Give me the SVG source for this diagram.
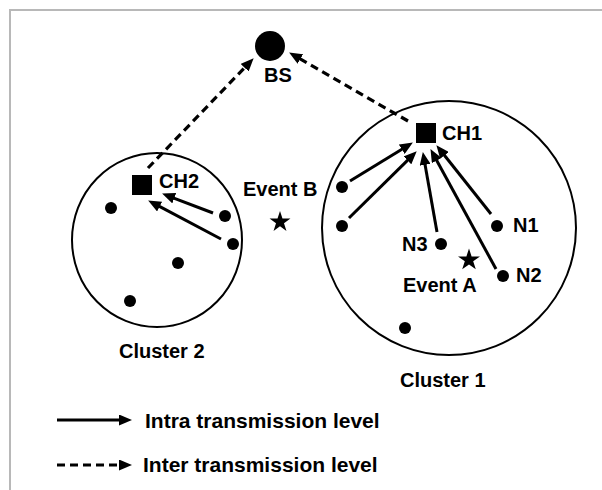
<svg xmlns="http://www.w3.org/2000/svg" xmlns:xlink="http://www.w3.org/1999/xlink" width="602" height="490" viewBox="0 0 602 490">
<style>
  text { font-family: "Liberation Sans", Arial, sans-serif; font-weight: bold; font-size: 20px; fill: #000; }
  .legend-text { font-size: 21px; }
  .frame { stroke: #b8b8b8; stroke-width: 2; fill: none; }
  .cluster { fill: none; stroke: #000; stroke-width: 2; }
  .dot { fill: #000; }
  .ch { fill: #000; }
  .intra { stroke: #000; stroke-width: 3; fill: none; marker-end: url(#head); }
  .inter { stroke: #000; stroke-width: 3.2; fill: none; stroke-dasharray: 8 5; marker-end: url(#head); }
</style>
<defs>
  <marker id="head" viewBox="0 0 13 11" refX="4" refY="5.5" markerWidth="13" markerHeight="11" markerUnits="userSpaceOnUse" orient="auto">
    <path d="M0,0 L13,5.5 L0,11 Z" fill="#000"/>
  </marker>
  <path id="star" d="M0,-11 L2.47,-3.4 L10.46,-3.4 L3.99,1.3 L6.47,8.9 L0,4.2 L-6.47,8.9 L-3.99,1.3 L-10.46,-3.4 L-2.47,-3.4 Z" fill="#000"/>
</defs>
<rect width="602" height="490" fill="#fff"/>
<path class="frame" d="M10,490 L10,10 L602,10"/>

<g id="cluster1">
  <circle class="cluster" cx="449" cy="228" r="127"/>
  <text x="400" y="387">Cluster 1</text>
</g>
<g id="cluster2">
  <ellipse class="cluster" cx="157" cy="240" rx="85" ry="87"/>
  <text x="119" y="358">Cluster 2</text>
</g>

<g id="bs">
  <circle cx="270" cy="46" r="15" fill="#000"/>
  <text x="264" y="82">BS</text>
</g>
<g id="ch1">
  <rect class="ch" x="416" y="123" width="20" height="20"/>
  <text x="442" y="140">CH1</text>
</g>
<g id="ch2">
  <rect class="ch" x="132" y="175" width="20" height="20"/>
  <text x="159" y="188">CH2</text>
</g>

<g id="c1-nodes">
  <circle class="dot" cx="342" cy="187" r="6"/>
  <circle class="dot" cx="342" cy="226" r="6"/>
  <circle class="dot" cx="405" cy="328" r="6"/>
</g>
<g id="n1">
  <circle class="dot" cx="497" cy="226" r="6"/>
  <text x="513" y="232">N1</text>
</g>
<g id="n2">
  <circle class="dot" cx="503" cy="276" r="6"/>
  <text x="516" y="282">N2</text>
</g>
<g id="n3">
  <circle class="dot" cx="441" cy="244" r="6"/>
  <text x="402" y="251">N3</text>
</g>
<g id="c2-nodes">
  <circle class="dot" cx="111" cy="208" r="6"/>
  <circle class="dot" cx="225" cy="216" r="6"/>
  <circle class="dot" cx="233" cy="244" r="6"/>
  <circle class="dot" cx="178" cy="263" r="6"/>
  <circle class="dot" cx="130" cy="301" r="6"/>
</g>

<g id="event-a">
  <use xlink:href="#star" href="#star" transform="translate(469,260) scale(1.05)"/>
  <text x="403" y="292">Event A</text>
</g>
<g id="event-b">
  <use xlink:href="#star" href="#star" transform="translate(280,222)"/>
  <text x="243" y="196">Event B</text>
</g>

<g id="connectors">
  <line class="intra" x1="350" y1="181" x2="405.2" y2="147.2"/>
  <line class="intra" x1="349" y1="218" x2="410.3" y2="157.6"/>
  <line class="intra" x1="437" y1="232" x2="424.4" y2="160.9"/>
  <line class="intra" x1="496" y1="269" x2="434.8" y2="157.0"/>
  <line class="intra" x1="491" y1="214" x2="442.0" y2="152.3"/>
  <line class="intra" x1="213" y1="213" x2="170.5" y2="196.8"/>
  <line class="intra" x1="221" y1="239" x2="156.1" y2="204.7"/>
  <line class="inter" x1="148" y1="168" x2="247.4" y2="64.8"/>
  <line class="inter" x1="408" y1="121" x2="296.9" y2="57.0"/>
</g>

<g id="legend">
  <line class="intra" x1="57" y1="420" x2="123" y2="420"/>
  <text class="legend-text" x="145" y="428">Intra transmission level</text>
  <line class="inter" x1="57" y1="465" x2="123" y2="465"/>
  <text class="legend-text" x="143" y="472">Inter transmission level</text>
</g>
</svg>
